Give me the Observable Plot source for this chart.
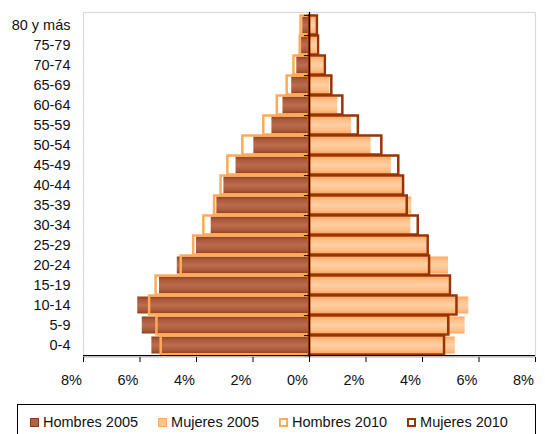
<!DOCTYPE html>
<html>
<head>
<meta charset="utf-8">
<script src="https://cdn.jsdelivr.net/npm/d3@7"></script>
<script src="https://cdn.jsdelivr.net/npm/@observablehq/plot@0.6"></script>
<style>
  body { margin: 0; background: #fff; font-family: "Liberation Sans", Arial, sans-serif; }
  #chart { position: relative; width: 545px; height: 434px; overflow: hidden; }
  #legend { position: absolute; left: 17px; top: 404px; width: 519px; height: 40px; border: 1px solid #000; box-sizing: border-box; }
  #legend .items { position: absolute; left: 12px; top: 9px; display: flex; align-items: center; font-size: 14.5px; color: #111; white-space: nowrap; }
  #legend .item { display: flex; align-items: center; margin-right: 20px; }
  #legend .sw { width: 9px; height: 9px; box-sizing: border-box; margin-right: 4px; }
</style>
</head>
<body>
<div id="chart"></div>
<script>
const categories = ["0-4","5-9","10-14","15-19","20-24","25-29","30-34","35-39","40-44","45-49","50-54","55-59","60-64","65-69","70-74","75-79","80 y más"];
const hombres2005 = [5.58, 5.92, 6.08, 5.31, 4.68, 4.00, 3.48, 3.28, 3.03, 2.60, 1.97, 1.33, 0.94, 0.63, 0.45, 0.28, 0.24];
const mujeres2005 = [5.16, 5.51, 5.64, 4.95, 4.92, 4.15, 3.59, 3.62, 3.36, 2.90, 2.18, 1.49, 1.00, 0.72, 0.51, 0.26, 0.24];
const hombres2010 = [5.25, 5.40, 5.66, 5.43, 4.54, 4.10, 3.74, 3.36, 3.13, 2.89, 2.36, 1.62, 1.14, 0.79, 0.55, 0.33, 0.30];
const mujeres2010 = [4.78, 4.93, 5.22, 4.99, 4.25, 4.20, 3.85, 3.46, 3.33, 3.16, 2.56, 1.73, 1.18, 0.79, 0.56, 0.32, 0.28];
const xTicks = [-8, -6, -4, -2, 0, 2, 4, 6, 8];
const seriesNames = ["Hombres 2005", "Mujeres 2005", "Hombres 2010", "Mujeres 2010"];

const rows = categories.map((c, i) => ({
  age: c, h05: hombres2005[i], m05: mujeres2005[i], h10: hombres2010[i], m10: mujeres2010[i]
}));
const fmt = d => Math.abs(d) + "%";
const half = 345 / categories.length / 2;

const svg = Plot.plot({
  width: 545,
  height: 400,
  marginLeft: 83,
  marginRight: 10,
  marginTop: 12,
  marginBottom: 43,
  style: { fontFamily: '"Liberation Sans", Arial, sans-serif', fontSize: "14.5px", color: "#111", background: "#fff" },
  x: { domain: [-8, 8], axis: null },
  y: { domain: categories.slice().reverse(), padding: 0, axis: null },
  marks: [
    Plot.frame({ stroke: "#d9d9d9", strokeWidth: 1.2 }),
    Plot.barX(rows, { y: "age", x: d => -d.h05, fill: "url(#gH)", insetTop: 1.5, insetBottom: 1.5 }),
    Plot.barX(rows, { y: "age", x: "m05", fill: "url(#gM)", insetTop: 1.5, insetBottom: 1.5 }),
    Plot.barX(rows, { y: "age", x: d => -d.h10, fill: "none", stroke: "#ffaa5a", strokeWidth: 2.5, insetTop: 0.5, insetBottom: 0.5 }),
    Plot.barX(rows, { y: "age", x: "m10", fill: "none", stroke: "#993300", strokeWidth: 2.5, insetTop: 0.5, insetBottom: 0.5 }),
    Plot.ruleX([0], { stroke: "#000", strokeWidth: 1.3 }),
    Plot.ruleY(categories, { y: d => d, x1: -0.18, x2: 0, dy: half, stroke: "#000" }),
    Plot.ruleY([categories[categories.length - 1]], { y: d => d, x1: -0.18, x2: 0, dy: -half, stroke: "#000" }),
    Plot.ruleY([categories[0]], { y: d => d, x1: -8, x2: 8, dy: half, stroke: "#000", strokeWidth: 1.2 }),
    Plot.axisY({ tickSize: 0, tickPadding: 13, fontSize: 14.5, label: null }),
    Plot.axisX({ ticks: xTicks, tickSize: 5, tickFormat: () => "", stroke: "#000", label: null }),
    Plot.axisX({ ticks: xTicks, tickSize: 0, tickPadding: 17, dx: -12, tickFormat: fmt, fontSize: 14.5, label: null })
  ]
});

d3.select(svg).insert("defs", ":first-child").html(`
  <linearGradient id="gH" x1="0" y1="0" x2="0" y2="1">
    <stop offset="0" stop-color="#93401a"/>
    <stop offset="0.18" stop-color="#a9593a"/>
    <stop offset="0.5" stop-color="#bb6d4d"/>
    <stop offset="0.82" stop-color="#a9593a"/>
    <stop offset="1" stop-color="#93401a"/>
  </linearGradient>
  <linearGradient id="gM" x1="0" y1="0" x2="0" y2="1">
    <stop offset="0" stop-color="#ffa860"/>
    <stop offset="0.2" stop-color="#ffbf88"/>
    <stop offset="0.5" stop-color="#ffd0a4"/>
    <stop offset="0.8" stop-color="#ffbf88"/>
    <stop offset="1" stop-color="#ffa860"/>
  </linearGradient>`);

const chart = document.getElementById("chart");
chart.appendChild(svg);

const swatchStyles = [
  "background:#b5603e;border:1px solid #8b3a14;",
  "background:#ffc48c;border:1px solid #ffaa66;",
  "background:#fff;border:2px solid #ffaa5a;",
  "background:#fff;border:2px solid #993300;"
];
const legend = document.createElement("div");
legend.id = "legend";
const items = document.createElement("div");
items.className = "items";
seriesNames.forEach((name, i) => {
  const it = document.createElement("div");
  it.className = "item";
  const sw = document.createElement("span");
  sw.className = "sw";
  sw.style.cssText = swatchStyles[i];
  const tx = document.createElement("span");
  tx.textContent = name;
  it.appendChild(sw);
  it.appendChild(tx);
  items.appendChild(it);
});
legend.appendChild(items);
chart.appendChild(legend);
</script>
</body>
</html>
